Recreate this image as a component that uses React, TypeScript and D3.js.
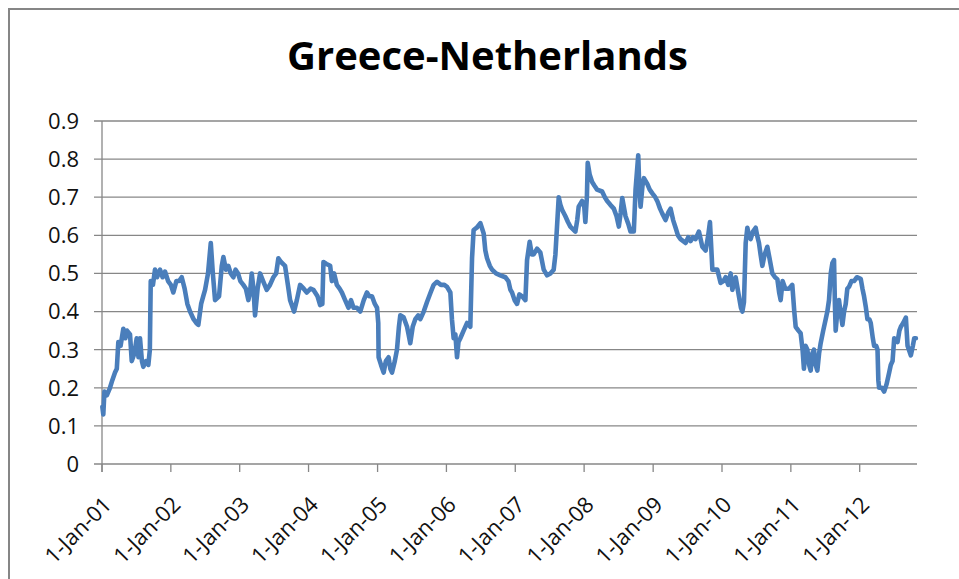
import React from "react";
import * as d3 from "d3";

const title = "Greece-Netherlands";

// decimal years and series values
const decimalYears = [
  2001.005, 2001.019, 2001.035, 2001.07, 2001.116, 2001.15, 2001.189, 2001.215, 2001.237, 2001.27,
  2001.31, 2001.34, 2001.363, 2001.407, 2001.432, 2001.47, 2001.504, 2001.53, 2001.552, 2001.58,
  2001.6, 2001.64, 2001.673, 2001.695, 2001.708, 2001.74, 2001.77, 2001.8, 2001.843, 2001.88,
  2001.915, 2001.96, 2002.0, 2002.036, 2002.08, 2002.12, 2002.158, 2002.2, 2002.24, 2002.279,
  2002.33, 2002.37, 2002.399, 2002.44, 2002.47, 2002.497, 2002.54, 2002.58, 2002.61, 2002.642,
  2002.7, 2002.74, 2002.763, 2002.8, 2002.835, 2002.87, 2002.908, 2002.94, 2002.976, 2003.01,
  2003.053, 2003.09, 2003.126, 2003.15, 2003.175, 2003.2, 2003.223, 2003.26, 2003.296, 2003.34,
  2003.393, 2003.44, 2003.489, 2003.53, 2003.562, 2003.6, 2003.659, 2003.7, 2003.732, 2003.79,
  2003.83, 2003.877, 2003.93, 2003.975, 2004.03, 2004.07, 2004.13, 2004.168, 2004.2, 2004.216,
  2004.26, 2004.313, 2004.338, 2004.37, 2004.41, 2004.45, 2004.483, 2004.53, 2004.579, 2004.615,
  2004.652, 2004.7, 2004.749, 2004.8, 2004.846, 2004.88, 2004.919, 2004.96, 2004.992, 2005.01,
  2005.015, 2005.05, 2005.088, 2005.12, 2005.16, 2005.185, 2005.21, 2005.25, 2005.282, 2005.31,
  2005.33, 2005.378, 2005.428, 2005.45, 2005.475, 2005.51, 2005.548, 2005.59, 2005.621, 2005.67,
  2005.718, 2005.77, 2005.814, 2005.864, 2005.92, 2005.97, 2006.009, 2006.057, 2006.08, 2006.105,
  2006.13, 2006.154, 2006.175, 2006.202, 2006.25, 2006.3, 2006.347, 2006.372, 2006.395, 2006.44,
  2006.493, 2006.541, 2006.565, 2006.59, 2006.63, 2006.663, 2006.72, 2006.783, 2006.856, 2006.9,
  2006.929, 2006.953, 2006.99, 2007.026, 2007.06, 2007.099, 2007.147, 2007.171, 2007.209, 2007.24,
  2007.267, 2007.317, 2007.364, 2007.413, 2007.462, 2007.51, 2007.558, 2007.583, 2007.631, 2007.655,
  2007.68, 2007.728, 2007.765, 2007.8, 2007.873, 2007.9, 2007.921, 2007.971, 2008.0, 2008.018,
  2008.04, 2008.052, 2008.08, 2008.116, 2008.15, 2008.188, 2008.261, 2008.3, 2008.334, 2008.38,
  2008.43, 2008.47, 2008.503, 2008.53, 2008.552, 2008.6, 2008.64, 2008.672, 2008.72, 2008.745,
  2008.784, 2008.8, 2008.818, 2008.845, 2008.866, 2008.915, 2008.95, 2008.988, 2009.03, 2009.06,
  2009.1, 2009.133, 2009.18, 2009.22, 2009.253, 2009.29, 2009.326, 2009.36, 2009.398, 2009.471,
  2009.51, 2009.544, 2009.58, 2009.616, 2009.665, 2009.69, 2009.714, 2009.762, 2009.8, 2009.825,
  2009.86, 2009.883, 2009.932, 2009.98, 2010.02, 2010.053, 2010.09, 2010.126, 2010.15, 2010.198,
  2010.246, 2010.275, 2010.296, 2010.319, 2010.344, 2010.368, 2010.39, 2010.416, 2010.45, 2010.489,
  2010.51, 2010.537, 2010.56, 2010.586, 2010.62, 2010.658, 2010.69, 2010.731, 2010.77, 2010.804,
  2010.83, 2010.852, 2010.88, 2010.92, 2010.972, 2011.021, 2011.05, 2011.07, 2011.11, 2011.142,
  2011.17, 2011.19, 2011.215, 2011.24, 2011.265, 2011.288, 2011.312, 2011.336, 2011.36, 2011.385,
  2011.41, 2011.433, 2011.47, 2011.506, 2011.53, 2011.554, 2011.58, 2011.603, 2011.627, 2011.64,
  2011.651, 2011.675, 2011.699, 2011.72, 2011.749, 2011.773, 2011.797, 2011.82, 2011.845, 2011.88,
  2011.918, 2011.96, 2012.015, 2012.04, 2012.063, 2012.09, 2012.112, 2012.14, 2012.16, 2012.19,
  2012.209, 2012.24, 2012.258, 2012.27, 2012.281, 2012.32, 2012.354, 2012.39, 2012.427, 2012.45,
  2012.476, 2012.5, 2012.548, 2012.575, 2012.596, 2012.63, 2012.669, 2012.693, 2012.741, 2012.77,
  2012.79, 2012.814,
];

const values = [
  0.15, 0.13, 0.19, 0.18, 0.2, 0.22, 0.24, 0.25, 0.32, 0.31,
  0.355, 0.33, 0.35, 0.34, 0.27, 0.29, 0.33, 0.28, 0.33, 0.27,
  0.255, 0.27, 0.26, 0.3, 0.48, 0.47, 0.51, 0.49, 0.51, 0.49,
  0.505, 0.48, 0.47, 0.45, 0.48, 0.48, 0.49, 0.46, 0.42, 0.4,
  0.38, 0.37, 0.365, 0.42, 0.44, 0.457, 0.5, 0.58, 0.5, 0.43,
  0.44, 0.52, 0.543, 0.51, 0.52, 0.5, 0.49, 0.51, 0.5, 0.48,
  0.47, 0.46, 0.43, 0.45, 0.5, 0.46, 0.39, 0.46, 0.5, 0.48,
  0.457, 0.47, 0.49, 0.5, 0.54, 0.53, 0.52, 0.47, 0.43, 0.4,
  0.43, 0.47, 0.46, 0.45, 0.46, 0.457, 0.44, 0.417, 0.42, 0.53,
  0.525, 0.52, 0.48, 0.5, 0.47, 0.46, 0.45, 0.43, 0.41, 0.43,
  0.41, 0.41, 0.4, 0.43, 0.45, 0.44, 0.44, 0.42, 0.41, 0.37,
  0.28, 0.26, 0.24, 0.27, 0.28, 0.25, 0.24, 0.27, 0.3, 0.36,
  0.39, 0.385, 0.36, 0.34, 0.317, 0.36, 0.38, 0.39, 0.38, 0.4,
  0.425, 0.45, 0.47, 0.478, 0.47, 0.47, 0.465, 0.45, 0.38, 0.33,
  0.34, 0.28, 0.32, 0.33, 0.35, 0.37, 0.36, 0.54, 0.614, 0.62,
  0.632, 0.605, 0.56, 0.54, 0.52, 0.51, 0.5, 0.495, 0.49, 0.48,
  0.457, 0.45, 0.43, 0.42, 0.445, 0.44, 0.43, 0.535, 0.583, 0.55,
  0.55, 0.565, 0.555, 0.51, 0.495, 0.5, 0.51, 0.55, 0.7, 0.68,
  0.667, 0.65, 0.635, 0.623, 0.61, 0.64, 0.675, 0.69, 0.68, 0.635,
  0.7, 0.79, 0.76, 0.74, 0.73, 0.72, 0.715, 0.7, 0.69, 0.68,
  0.67, 0.65, 0.623, 0.66, 0.698, 0.65, 0.63, 0.61, 0.61, 0.72,
  0.81, 0.72, 0.675, 0.73, 0.75, 0.735, 0.72, 0.71, 0.7, 0.69,
  0.67, 0.657, 0.64, 0.66, 0.67, 0.64, 0.62, 0.6, 0.59, 0.58,
  0.595, 0.585, 0.595, 0.59, 0.61, 0.59, 0.57, 0.56, 0.6, 0.635,
  0.51, 0.51, 0.51, 0.475, 0.48, 0.49, 0.47, 0.5, 0.457, 0.49,
  0.44, 0.41, 0.4, 0.425, 0.58, 0.62, 0.6, 0.59, 0.61, 0.62,
  0.6, 0.58, 0.55, 0.52, 0.55, 0.57, 0.54, 0.5, 0.49, 0.485,
  0.45, 0.43, 0.48, 0.46, 0.46, 0.47, 0.4, 0.36, 0.35, 0.343,
  0.3, 0.25, 0.31, 0.3, 0.26, 0.245, 0.29, 0.3, 0.26, 0.245,
  0.29, 0.317, 0.35, 0.38, 0.4, 0.43, 0.5, 0.527, 0.535, 0.42,
  0.35, 0.4, 0.43, 0.4, 0.365, 0.4, 0.42, 0.46, 0.465, 0.48,
  0.48, 0.49, 0.486, 0.46, 0.44, 0.41, 0.38, 0.38, 0.37, 0.33,
  0.31, 0.31, 0.3, 0.22, 0.2, 0.2, 0.19, 0.21, 0.24, 0.26,
  0.27, 0.33, 0.32, 0.35, 0.36, 0.37, 0.384, 0.31, 0.285, 0.31,
  0.33, 0.33,
];

const yTicks = [0, 0.1, 0.2, 0.3, 0.4, 0.5, 0.6, 0.7, 0.8, 0.9];
const yTickLabels = ["0", "0.1", "0.2", "0.3", "0.4", "0.5", "0.6", "0.7", "0.8", "0.9"];
const xTickYears = [2001, 2002, 2003, 2004, 2005, 2006, 2007, 2008, 2009, 2010, 2011, 2012];
const xTickLabels = [
  "1-Jan-01", "1-Jan-02", "1-Jan-03", "1-Jan-04", "1-Jan-05", "1-Jan-06",
  "1-Jan-07", "1-Jan-08", "1-Jan-09", "1-Jan-10", "1-Jan-11", "1-Jan-12",
];
const domainStartYear = 2001;
const domainEndYear = 2012.83;

function yearToDate(y: number): Date {
  const yr = Math.floor(y);
  const start = new Date(yr, 0, 1).getTime();
  const end = new Date(yr + 1, 0, 1).getTime();
  return new Date(start + (y - yr) * (end - start));
}

const W = 959;
const H = 579;
const left = 102;
const right = 917;
const top = 121;
const bottom = 464;
const axisFont = "'Open Sans', 'DejaVu Sans', sans-serif";
const gridColor = "#878787";

export default function App() {
  const x = d3
    .scaleTime()
    .domain([yearToDate(domainStartYear), yearToDate(domainEndYear)])
    .range([left, right]);
  const y = d3.scaleLinear().domain([0, 0.9]).range([bottom, top]);

  const pts = decimalYears.map((t, i) => ({ d: yearToDate(t), v: values[i] }));
  const line = d3
    .line<{ d: Date; v: number }>()
    .x((p) => x(p.d))
    .y((p) => y(p.v));

  return (
    <svg
      width={W}
      height={H}
      style={{ position: "absolute", left: 0, top: 0, background: "#fff" }}
    >
      <rect x={0} y={0} width={W} height={H} fill="#fff" />
      <rect x={9} y={9} width={W + 20} height={H + 20} fill="none" stroke="#868686" strokeWidth={2} />
      <text
        x={487.5}
        y={70}
        textAnchor="middle"
        fontFamily={axisFont}
        fontWeight="bold"
        fontSize={40}
        fill="#000"
      >
        {title}
      </text>
      {yTicks.map((t, i) => (
        <g key={"y" + i}>
          <line
            x1={left - 8}
            x2={right}
            y1={y(t)}
            y2={y(t)}
            stroke={gridColor}
            strokeWidth={1.3}
          />
          <text
            x={79}
            y={y(t)}
            dy="0.36em"
            textAnchor="end"
            fontFamily={axisFont}
            fontSize={22}
            fill="#111"
          >
            {yTickLabels[i]}
          </text>
        </g>
      ))}
      <line x1={left} x2={left} y1={top} y2={bottom + 8} stroke={gridColor} strokeWidth={1.3} />
      {xTickYears.map((yr, i) => {
        const px = x(yearToDate(yr));
        return (
          <g key={"x" + i}>
            <line x1={px} x2={px} y1={bottom} y2={bottom + 8} stroke={gridColor} strokeWidth={1.3} />
            <text
              transform={`translate(${px + 11},${bottom + 42}) rotate(-45)`}
              textAnchor="end"
              fontFamily={axisFont}
              fontSize={22}
              fill="#111"
            >
              {xTickLabels[i]}
            </text>
          </g>
        );
      })}
      <path
        d={line(pts) || ""}
        fill="none"
        stroke="#4a7ebb"
        strokeWidth={4.6}
        strokeLinejoin="round"
        strokeLinecap="round"
      />
    </svg>
  );
}
